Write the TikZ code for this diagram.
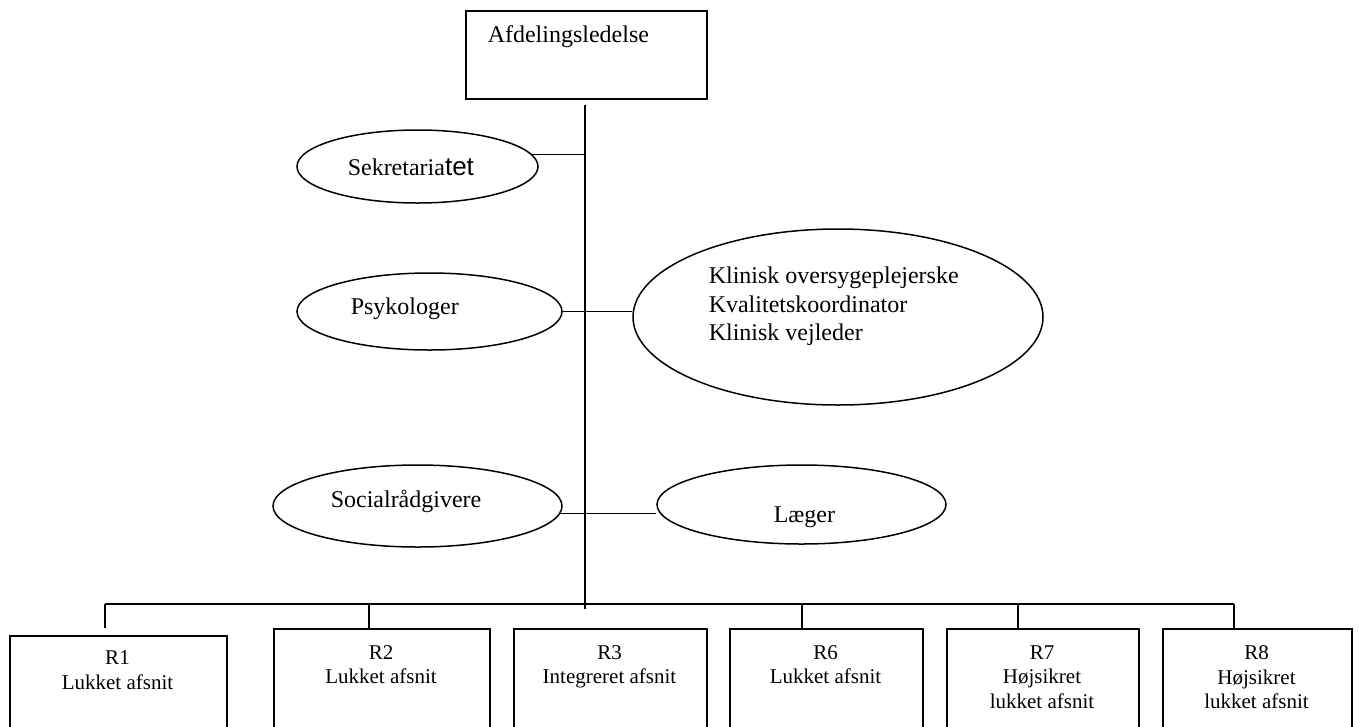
\documentclass[tikz,border=0pt]{standalone}
\usepackage{fontspec}
\setmainfont{Liberation Serif}
\newfontfamily\arialf{Liberation Sans}
\usetikzlibrary{shapes.geometric}
\begin{document}
\begin{tikzpicture}[x=1pt,y=-1pt,line width=1.5pt,
  oval/.style={draw,ellipse,inner sep=0pt},
  unitbox/.style={draw,rectangle,anchor=north west,inner sep=0pt,minimum height=130pt},
  bigtext/.style={inner sep=0pt,font=\fontsize{24}{28.5}\selectfont},
  boxtext/.style={inner sep=0pt,anchor=north,align=center,font=\fontsize{21}{24.5}\selectfont}]
\clip (0,0) rectangle (1359,726);
% top box
\node[draw,rectangle,anchor=north west,inner sep=0pt,minimum width=241pt,minimum height=88pt] (top) at (465,10) {};
\node[bigtext,anchor=base west] (topT) at (487,42) {Afdelingsledelse};
% ellipses
\node[oval,minimum width=241pt,minimum height=73pt] (sek) at (417.5,166.5) {};
\node[bigtext,anchor=base west] (sekT) at (347,175) {Sekretaria{\arialf\fontsize{26}{30}\selectfont tet}};
\node[oval,minimum width=265pt,minimum height=77pt] (psyk) at (429.5,311.5) {};
\node[bigtext,anchor=base west] (psykT) at (350,314) {Psykologer};
\node[oval,minimum width=410pt,minimum height=176pt] (big) at (838,317) {};
\node[bigtext,anchor=north west,align=left] (bigT) at (708,266.5) {Klinisk oversygeplejerske\\Kvalitetskoordinator\\Klinisk vejleder};
\node[oval,minimum width=289pt,minimum height=82pt] (soc) at (417.5,506) {};
\node[bigtext,anchor=base west] (socT) at (330,507) {Socialrådgivere};
\node[oval,minimum width=289pt,minimum height=79pt] (laeg) at (801.5,504.5) {};
\node[bigtext,anchor=base west] (laegT) at (773,522) {Læger};
% unit boxes
\node[unitbox,minimum width=217pt] (r1) at (9,635) {};
\node[unitbox,minimum width=216pt] (r2) at (273,628) {};
\node[unitbox,minimum width=193pt] (r3) at (513,628) {};
\node[unitbox,minimum width=193pt] (r6) at (729,628) {};
\node[unitbox,minimum width=192pt] (r7) at (946,628) {};
\node[unitbox,minimum width=189pt] (r8) at (1162,628) {};
\node[boxtext] (r1t) at (117.5,650) {R1\\Lukket afsnit};
\node[boxtext] (r2t) at (381,644.8) {R2\\Lukket afsnit};
\node[boxtext] (r3t) at (609.5,644.8) {R3\\Integreret afsnit};
\node[boxtext] (r6t) at (825.5,644.8) {R6\\Lukket afsnit};
\node[boxtext] (r7t) at (1042,644.8) {R7\\Højsikret\\lukket afsnit};
\node[boxtext] (r8t) at (1256.5,644.8) {R8\\Højsikret\\lukket afsnit};
% connectors
\coordinate (trunkTop) at (585,105);
\coordinate (trunkBot) at (585,609);
\draw (trunkTop) -- (trunkBot);
\draw (sek.6.3) -- (sek.6.3 -| trunkTop);
\draw (psyk.east) -- (psyk.east -| big.west);
\draw (soc.-3.2) -- (soc.-3.2 -| laeg.west);
\coordinate (busL) at (105,604);
\coordinate (busR) at (1234,604);
\coordinate (d1) at (105,628);
\coordinate (b2) at (369,604);
\coordinate (b6) at (802,604);
\coordinate (b7) at (1018,604);
\draw (busL) -- (busR);
\draw (busL) -- (d1);
\draw (b2) -- (b2 |- r2.north);
\draw (b6) -- (b6 |- r6.north);
\draw (b7) -- (b7 |- r7.north);
\draw (busR) -- (busR |- r8.north);
\end{tikzpicture}
\end{document}
